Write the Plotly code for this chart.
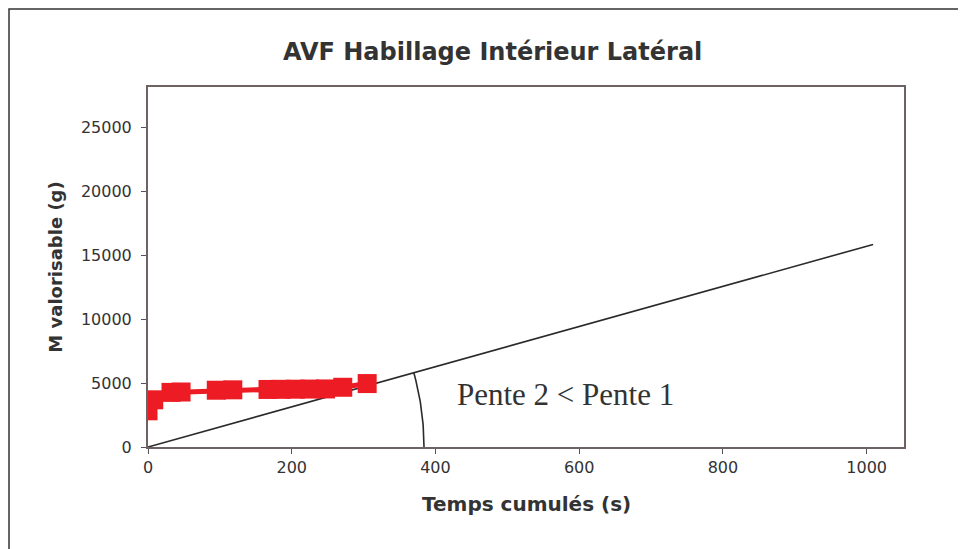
import numpy as np
import plotly.graph_objects as go

# Données
temps_cumules = [0, 8, 32, 46, 95, 118, 167, 185, 205, 225, 247, 271, 305]
m_valorisable = [2830, 3690, 4270, 4300, 4440, 4470, 4500, 4510, 4520, 4530, 4540, 4670, 4960]

pente_x = [0, 1009]
pente_y = [0, 15840]

x_ticks = [0, 200, 400, 600, 800, 1000]
y_ticks = [0, 5000, 10000, 15000, 20000, 25000]

titre = "AVF Habillage Intérieur Latéral"
titre_x = "Temps cumulés (s)"
titre_y = "M valorisable (g)"
texte_pente = "Pente 2 < Pente 1"

X_MAX, Y_MAX = 1052, 28150
# la page décale la figure de 8 px
L, R, T, B = 140, 62, 79, 102
W, H = 958, 541
PW, PH = W - L - R, H - T - B

fig = go.Figure()

fig.add_trace(go.Scatter(
    x=pente_x, y=pente_y, mode="lines",
    line=dict(color="#2a2a2a", width=1.6),
    showlegend=False, hoverinfo="skip"))

fig.add_trace(go.Scatter(
    x=temps_cumules, y=m_valorisable, mode="lines+markers",
    line=dict(color="#ED1C24", width=5),
    marker=dict(symbol="square", size=19, color="#ED1C24"),
    showlegend=False))

# arc d'angle (cercle en pixels centré sur l'origine)
px_x = PW / X_MAX
px_y = PH / Y_MAX
rayon = 276
angle = np.arctan2(pente_y[1] * px_y, pente_x[1] * px_x)
t = np.linspace(0, angle, 40)
fig.add_trace(go.Scatter(
    x=rayon * np.cos(t) / px_x, y=rayon * np.sin(t) / px_y, mode="lines",
    line=dict(color="#2a2a2a", width=1.6),
    showlegend=False, hoverinfo="skip"))

police = "DejaVu Sans"
fig.add_annotation(text=f"<b>{titre}</b>", xref="paper", yref="paper",
                   x=0.456, y=1.097, showarrow=False, xanchor="center", yanchor="middle",
                   font=dict(family=police, size=24, color="#333333"))
fig.add_annotation(text=f"<b>{titre_x}</b>", xref="paper", yref="paper",
                   x=0.501, y=-0.158, showarrow=False, xanchor="center", yanchor="middle",
                   font=dict(family=police, size=20, color="#333333"))
fig.add_annotation(text=f"<b>{titre_y}</b>", xref="paper", yref="paper",
                   x=-0.1217, y=0.501, showarrow=False, textangle=-90,
                   xanchor="center", yanchor="middle",
                   font=dict(family=police, size=18, color="#333333"))
fig.add_annotation(text=texte_pente, x=427, y=4125, showarrow=False,
                   xanchor="left", yanchor="middle",
                   font=dict(family="Liberation Serif", size=31, color="#333333"))

# cadre extérieur du graphique (au bord haut/gauche de la figure)
fig.add_shape(type="rect", xref="paper", yref="paper",
              x0=(1 - L) / PW, y0=-0.6, x1=1.2, y1=1 + (T - 1) / PH,
              line=dict(color="#333333", width=1.5), layer="below")

axe = dict(showgrid=False, zeroline=False, showline=True, mirror=True,
           linecolor="#6e6262", linewidth=2, ticks="outside", ticklen=5,
           tickcolor="#555555", tickfont=dict(family=police, size=16, color="#333333"))

fig.update_xaxes(range=[0, X_MAX], tickvals=x_ticks,
                 ticktext=[str(v) for v in x_ticks], **axe)
fig.update_yaxes(range=[0, Y_MAX], tickvals=y_ticks,
                 ticktext=[str(v) for v in y_ticks], ticklabelstandoff=6, **axe)

fig.update_layout(
    width=W, height=H,
    margin=dict(l=L, r=R, t=T, b=B),
    plot_bgcolor="white", paper_bgcolor="white",
    showlegend=False)

fig.write_html("out.html")
